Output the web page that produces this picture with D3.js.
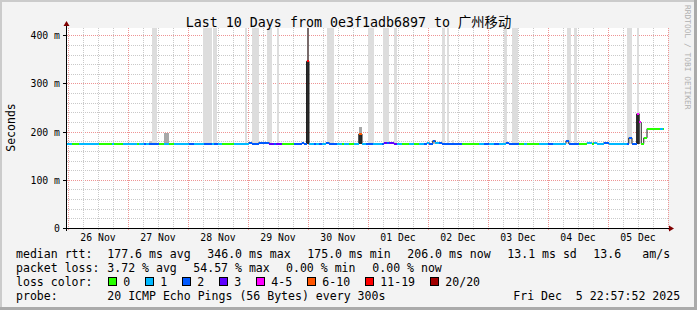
<!DOCTYPE html>
<html><head><meta charset="utf-8">
<script src="https://cdn.jsdelivr.net/npm/d3@7"></script>
<style>
html,body{margin:0;padding:0;background:#f3f3f3;}
svg{display:block;}
text{font-family:"DejaVu Sans Mono","Noto Sans CJK SC",monospace;white-space:pre;fill:#000;}
</style></head><body>
<svg id="c" width="697" height="310"></svg>
<script>
// ---------------- data ----------------
const title = "Last 10 Days from 0e3f1adb6897 to 广州移动";
const yLabel = "Seconds";
const watermark = "RRDTOOL / TOBI OETIKER";
const dayLabels = ["26 Nov","27 Nov","28 Nov","29 Nov","30 Nov","01 Dec","02 Dec","03 Dec","04 Dec","05 Dec"];
const yTicks = [0, 100, 200, 300, 400];
const yTickLabels = ["0", "100 m", "200 m", "300 m", "400 m"];

// median rtt (ms), hours since 26 Nov 00:00, loss class index
const lineHours = [-0.4,1.6,4.5,12.3,17.6,18.5,22.1,27.6,28.5,30.3,31.2,32.3,36.3,38.3,40.3,42.3,48.3,50.5,54.3,57.5,58.3,60.0,61.6,66.3,
  72.3,73.6,76.3,79.6,80.5,82.3,83.2,85.6,90.3,93.6,94.3,95.4,96.4,98.3,99.2,100.3,101.6,103.2,104.5,107.6,109.6,110.3,112.3,114.3,
  116.3,117.6,119.2,121.9,125.6,126.5,127.6,128.3,130.3,131.6,133.6,136.3,138.3,140.3,142.3,143.6,144.5,145.9,146.9,148.3,149.6,
  157.6,164.3,166.3,168.3,170.3,172.3,175.2,176.3,180.5,182.5,183.6,188.5,191.9,193.9,199.2,200.3,204.5,207.6,209.6,210.3,211.6,
  214.3,216.3,223.6,224.3,225.6,227.5,228.5,229.3,230.3,231.6,236.8,237.9];
const lineValues = [175,175,175,175,175,175,175,175,175,175,175,175,175,175,175,175,175,175,175,175,175,175,175,175,
  177,175,177,177,175,175,175,175,175,177,175,346,175,175,175,175,175,177,175,175,175,175,175,175,
  195,175,175,175,175,177,177,177,175,175,175,175,175,175,175,177,175,181,177,177,175,
  175,175,175,175,175,175,177,175,175,175,175,175,175,175,181,175,175,177,175,177,175,
  177,175,175,187,175,237,219,175,187,206,206,206];
const lineLoss = [1,0,1,0,1,0,1,0,1,2,1,2,0,1,0,1,2,1,2,1,2,1,0,1,
  2,2,2,2,3,2,3,0,2,2,2,6,1,2,1,2,1,2,2,1,0,1,0,1,
  5,1,2,1,2,3,2,3,3,1,0,1,0,1,2,1,2,2,1,2,2,
  0,1,2,1,2,1,2,2,0,1,0,1,2,1,2,2,0,1,0,1,1,
  2,1,2,2,2,4,4,0,0,0,1,0];
const lineEndHour = 238.4;

// smoke (ping spread) blocks
const smokeStart = [33.5,54.0,58.0,70.8,73.5,79.5,83.5,103.5,120.0,126.0,130.4,149.6,151.6,174.4,177.6,199.6,202.5,223.6,227.7,
  32.3,38.3,95.4,95.4,116.3,116.3,145.9,153.6,227.1,227.5,228.5];
const smokeEnd = [35.5,57.5,59.5,71.7,76.3,81.5,84.3,106.4,122.4,128.4,131.6,150.6,152.5,175.6,179.8,201.1,203.6,225.6,228.3,
  33.5,40.3,96.4,96.4,117.6,117.6,147.0,154.3,227.5,228.5,228.9];
const smokeLow = [175,175,175,175,175,175,175,175,175,175,175,175,175,175,175,175,175,175,175,
  175,175,346,175,195,175,175,175,175,175,175];
const smokeHigh = [430,430,430,430,430,430,430,430,430,430,430,430,430,430,430,430,430,430,430,
  181,198,430,346,209,195,183,182,237,237,219];
const smokeLevel = [0,0,0,0,0,0,0,0,0,0,0,0,0,0,0,0,0,0,0,
  1,2,5,4,2,4,1,0,3,4,3];

const lossLabels = ["0","1","2","3","4-5","6-10","11-19","20/20"];
const rttStats = ["177.6","346.0","175.0","206.0","13.1"];
const rttStatNames = ["avg","max","min","now","sd"];
const amsValue = "13.6";
const lossStats = ["3.72","54.57","0.00","0.00"];
const lossStatNames = ["avg","max","min","now"];
const probeText = "20 ICMP Echo Pings (56 Bytes) every 300s";
const dateText = "Fri Dec  5 22:57:52 2025";

// ---------------- styles ----------------
const lossColors = ["#26ff00","#00b8ff","#0059ff","#5e00ff","#ff00ff","#ff5500","#ff0000","#a10000"];
const smokeColors = ["#dddddd","#c4c4c4","#a8a8a8","#555555","#2b2b2b","#786a6a"];
const minorGrid = "#c9c9c9", majorGrid = "#ee9494", arrowColor = "#7f0000";

// ---------------- drawing ----------------
const svg = d3.select("#c");
const W = 697, H = 310;
const t0 = Date.UTC(2025, 10, 26, 0, 0);
const toDate = h => new Date(t0 + h * 3600e3);
const x = d3.scaleUtc().domain([toDate(-0.4), toDate(240)]).range([67, 668]);
const y = d3.scaleLinear().domain([0, 415]).range([228, 28]);
const px = v => Math.round(v) + 0.5;

// background + 3D frame
svg.append("rect").attr("width", W).attr("height", H).attr("fill", "#f3f3f3");
svg.append("rect").attr("x",0).attr("y",0).attr("width",W).attr("height",2).attr("fill","#cbcbcb");
svg.append("rect").attr("x",0).attr("y",0).attr("width",2).attr("height",H).attr("fill","#cbcbcb");
svg.append("rect").attr("x",0).attr("y",H-3).attr("width",W).attr("height",3).attr("fill","#aaaaaa");
svg.append("rect").attr("x",W-3).attr("y",0).attr("width",3).attr("height",H).attr("fill","#aaaaaa");

// canvas
svg.append("rect").attr("x",67).attr("y",28).attr("width",601).attr("height",200).attr("fill","#fff");

const grid = svg.append("g").attr("stroke-dasharray","1,1").attr("stroke-width",1).attr("shape-rendering","crispEdges");
// horizontal grid
d3.range(20, 415, 20).forEach(v => {
  const major = v % 100 === 0;
  grid.append("line").attr("x1",67).attr("x2",668).attr("y1",px(y(v))).attr("y2",px(y(v)))
    .attr("stroke", major ? majorGrid : minorGrid);
});
// vertical grid
x.ticks(d3.utcHour.every(6)).forEach(d => {
  const major = d.getUTCHours() === 0;
  const xx = px(x(d));
  grid.append("line").attr("x1",xx).attr("x2",xx).attr("y1",28).attr("y2",228)
    .attr("stroke", major ? majorGrid : minorGrid);
  grid.append("line").attr("x1",xx).attr("x2",xx).attr("y1",229).attr("y2",231)
    .attr("stroke", major ? majorGrid : minorGrid).attr("stroke-dasharray", null);
});

// clip
svg.append("clipPath").attr("id","plot").append("rect").attr("x",67).attr("y",28).attr("width",601).attr("height",200);
const plot = svg.append("g").attr("clip-path","url(#plot)");

// smoke
const smoke = smokeStart.map((s,i)=>({s, e:smokeEnd[i], lo:smokeLow[i], hi:smokeHigh[i], lv:smokeLevel[i]}));
plot.append("g").attr("shape-rendering","crispEdges").selectAll("rect").data(smoke).join("rect")
  .attr("x", d => x(toDate(d.s))).attr("width", d => x(toDate(d.e)) - x(toDate(d.s)))
  .attr("y", d => y(d.hi)).attr("height", d => y(d.lo) - y(d.hi))
  .attr("fill", d => smokeColors[d.lv]);

// median
const pts = lineHours.map((h,i)=>({h, v:lineValues[i], l:lineLoss[i], h2: i < lineHours.length-1 ? lineHours[i+1] : lineEndHour}));
const linePts = pts.map(p=>[x(toDate(p.h)), y(p.v)]).concat([[x(toDate(lineEndHour)), y(pts[pts.length-1].v)]]);
plot.append("path").attr("d", d3.line().curve(d3.curveStepAfter)(linePts))
  .attr("fill","none").attr("stroke","#202020").attr("stroke-width",1);
plot.append("g").attr("shape-rendering","crispEdges").selectAll("rect").data(pts).join("rect")
  .attr("x", d => x(toDate(d.h))).attr("width", d => x(toDate(d.h2)) - x(toDate(d.h)))
  .attr("y", d => y(d.v) - 1).attr("height", 2)
  .attr("fill", d => lossColors[d.l]);

// axes
const ax = svg.append("g").attr("shape-rendering","crispEdges");
ax.append("line").attr("x1",63).attr("x2",670).attr("y1",228.5).attr("y2",228.5).attr("stroke","#000");
ax.append("line").attr("x1",66.5).attr("x2",66.5).attr("y1",231).attr("y2",25).attr("stroke","#000");
yTicks.forEach(v => ax.append("line").attr("x1",63).attr("x2",67).attr("y1",px(y(v))).attr("y2",px(y(v))).attr("stroke","#000"));
svg.append("path").attr("d","M669,225.5L674,228.5L669,231.5Z").attr("fill",arrowColor);
svg.append("path").attr("d","M63.5,26L66.5,21L69.5,26Z").attr("fill",arrowColor);

// y labels
svg.append("g").selectAll("text").data(yTicks).join("text")
  .attr("x", 60).attr("y", d => px(y(d))).attr("dy","0.35em").attr("text-anchor","end")
  .style("font-size","9.8px").text((d,i)=>yTickLabels[i]);
// x labels
svg.append("g").selectAll("text").data(dayLabels).join("text")
  .attr("x", (d,i) => x(toDate(12 + 24*i))).attr("y", 240.5).attr("text-anchor","middle")
  .style("font-size","9.8px").text(d=>d);

// title
svg.append("text").attr("x",348.5).attr("y",26.5).attr("text-anchor","middle").style("font-size","13.3px").text(title);
// y unit label
svg.append("text").attr("transform","translate(15,127.5) rotate(-90)").attr("text-anchor","middle")
  .style("font-size","11.5px").text(yLabel);
// watermark
svg.append("text").attr("transform","translate(685,5) rotate(90)").style("font-size","7.9px")
  .style("fill","#b0b0b0").text(watermark);

// legend
const lg = svg.append("g").style("font-size","11.55px");
const row1 = 257.5, row2 = 271.5, row3 = 285.5, row4 = 299.5;
lg.append("text").attr("x",16).attr("y",row1).text("median rtt:");
const r1x = [107.3, 207.3, 307.3, 407.3, 507.3];
rttStats.forEach((s,i)=> lg.append("text").attr("x", r1x[i]).attr("y", row1).text(s + " ms " + rttStatNames[i]));
lg.append("text").attr("x",593.3).attr("y",row1).text(amsValue);
lg.append("text").attr("x",642.3).attr("y",row1).text("am/s");

lg.append("text").attr("x",16).attr("y",row2).text("packet loss:");
const r2x = [107.3, 193.3, 286, 372.3];
lossStats.forEach((s,i)=> lg.append("text").attr("x", r2x[i]).attr("y", row2).text(s + " % " + lossStatNames[i]));

lg.append("text").attr("x",16).attr("y",row3).text("loss color:");
let cx = 108.5;
lossLabels.forEach((l,i)=>{
  lg.append("rect").attr("x",cx).attr("y",277.5).attr("width",8).attr("height",8)
    .attr("fill",lossColors[i]).attr("stroke","#000").attr("stroke-width",1).attr("shape-rendering","crispEdges");
  const t = lg.append("text").attr("x",cx+14.8).attr("y",row3).text(l);
  cx = cx + 14.8 + t.node().getComputedTextLength() + 15.5;
  cx = Math.round(cx - 0.5) + 0.5;
});

lg.append("text").attr("x",16).attr("y",row4).text("probe:");
lg.append("text").attr("x",107.3).attr("y",row4).text(probeText);
lg.append("text").attr("x",513.3).attr("y",row4).text(dateText);
</script>
</body></html>
